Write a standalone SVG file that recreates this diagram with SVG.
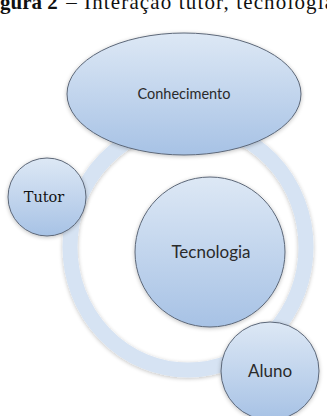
<svg xmlns="http://www.w3.org/2000/svg" width="327" height="416" viewBox="0 0 327 416">
<defs>
<linearGradient id="g" x1="0" y1="0" x2="0" y2="1">
<stop offset="0" stop-color="#dde8f5"/>
<stop offset="1" stop-color="#a7c2e5"/>
</linearGradient>
<filter id="sh" x="-20%" y="-20%" width="140%" height="140%">
<feGaussianBlur in="SourceAlpha" stdDeviation="2"/>
<feOffset dx="0" dy="1" result="b"/>
<feComponentTransfer><feFuncA type="linear" slope="0.25"/></feComponentTransfer>
<feMerge><feMergeNode/><feMergeNode in="SourceGraphic"/></feMerge>
</filter>
<style>
.node{fill:url(#g);stroke:#5c6778;stroke-width:1;filter:url(#sh)}
.sans{font-family:Lato,"Open Sans","Liberation Sans",sans-serif;fill:#2a2a2a;text-anchor:middle}
.serif{font-family:"DejaVu Serif","Liberation Serif",serif;font-size:14.5px;fill:#111;text-anchor:middle}
.ring{fill:none;stroke:#d6e3f3;stroke-width:15}
</style>
</defs>
<rect width="327" height="416" fill="#fff"/>
<text x="0" y="9" font-family="Liberation Serif, serif" font-size="21" fill="#111"><tspan font-weight="bold">gura 2</tspan><tspan x="61"> – </tspan><tspan x="84" textLength="250">Interação tutor, tecnologia</tspan></text>
<g id="connectors">
<ellipse class="ring" cx="188" cy="247" rx="118" ry="123" filter="url(#sh)"/>
</g>
<g id="tutor">
<circle class="node" cx="47" cy="197" r="39"/>
<text class="serif" x="44" y="202">Tutor</text>
</g>
<g id="conhecimento">
<ellipse class="node" cx="184" cy="94" rx="117" ry="61"/>
<text class="sans" x="184" y="99" font-size="14.5">Conhecimento</text>
</g>
<g id="tecnologia">
<circle class="node" cx="210" cy="252" r="75"/>
<text class="sans" x="211" y="258" font-size="17">Tecnologia</text>
</g>
<g id="aluno">
<circle class="node" cx="270" cy="371" r="49"/>
<text class="sans" x="270" y="377" font-size="17">Aluno</text>
</g>
</svg>
